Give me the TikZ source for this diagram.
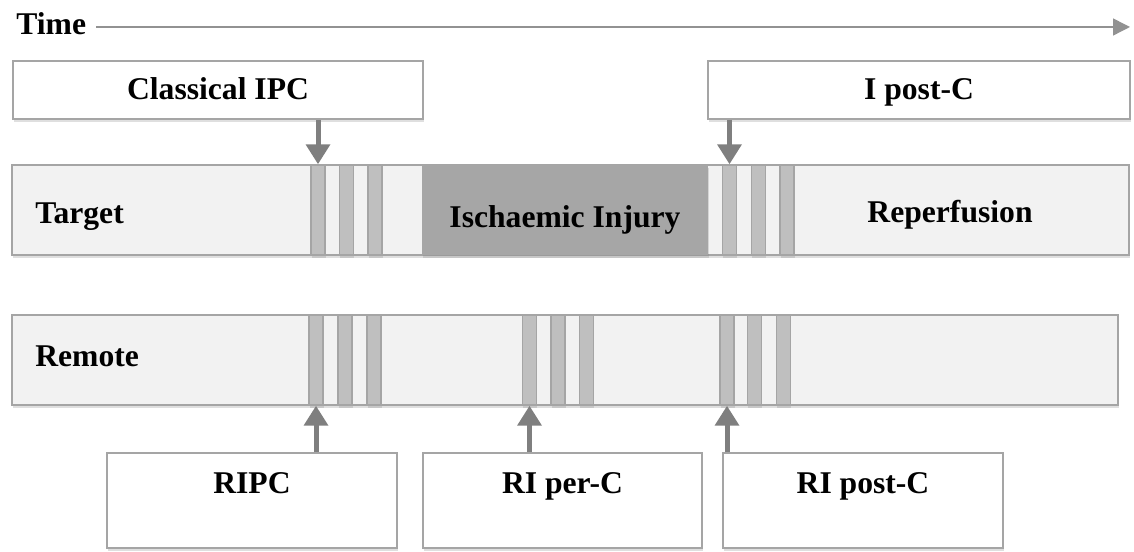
\documentclass[tikz,border=0pt]{standalone}
\usepackage{fontspec}
\setmainfont{Liberation Serif}
\usetikzlibrary{arrows.meta}
\usetikzlibrary{shadows}
\definecolor{barfill}{HTML}{F2F2F2}
\definecolor{barline}{HTML}{A5A5A5}
\definecolor{stripefill}{HTML}{BFBFBF}
\definecolor{injfill}{HTML}{A6A6A6}
\definecolor{arrowgray}{HTML}{7F7F7F}
\tikzset{   bar/.style = {rectangle, draw = barline, thick, fill = barfill, minimum height = 1.8cm, inner sep = 0pt,
                          drop shadow = {shadow xshift = 0.4pt, shadow yshift = -1.6pt, opacity = 0.25}},
            stripe/.style = {rectangle, draw = barline, thick, fill = stripefill, minimum width = 0.28cm, minimum height = 1.8cm, inner sep = 0pt,
                          drop shadow = {shadow xshift = 0.4pt, shadow yshift = -1.6pt, opacity = 0.25}},
            tag/.style = {rectangle, draw = barline, thick, fill = white, inner sep = 0pt,
                          font = \fontsize{18}{22}\selectfont\bfseries, text height = 1.15em, text depth = 0.1em,
                          drop shadow = {shadow xshift = 0.4pt, shadow yshift = -1.6pt, opacity = 0.25}},
            lbl/.style = {inner sep = 0pt, font = \fontsize{18}{22}\selectfont\bfseries},
            push/.style = {draw = arrowgray, line width = 0.1cm, -{Triangle[width = 0.47cm, length = 0.4cm]}}}

\begin{document}
\begin{tikzpicture}
\useasboundingbox (0,0) rectangle (22.68,-11.04);
% time axis
\node[lbl, anchor = base west] (time) at (0.32,-0.7) {Time};
\coordinate (tend) at (22.6,-0.54);
\draw[arrowgray!85, line width = 0.8pt, -{Triangle[width = 0.34cm, length = 0.34cm]}] ([xshift = 0.2cm]time.east |- tend) -- (tend);

% upper boxes
\node[tag, minimum width = 8.2cm, minimum height = 1.16cm] (ipc) at (4.36,-1.8) {Classical IPC};
\node[tag, minimum width = 8.44cm, minimum height = 1.16cm] (ipost) at (18.38,-1.8) {I post-C};

% target row
\node[bar, minimum width = 22.34cm] (target) at (11.41,-4.2) {};
\node[rectangle, fill = injfill, minimum width = 5.72cm, minimum height = 1.8cm, inner sep = 0pt,
      drop shadow = {shadow xshift = 0.4pt, shadow yshift = -1.6pt, opacity = 0.25}] (injury) at (11.3,-4.2) {};
\foreach \x [count = \i] in {6.36, 6.93, 7.50, 14.59, 15.17, 15.74}
    \node[stripe] (t\i) at (\x,-4.2) {};
\node[lbl, anchor = base west] (tlabel) at (0.7,-4.48) {Target};
\node[lbl, anchor = base] (ilabel) at (11.3,-4.56) {Ischaemic Injury};
\node[lbl, anchor = base] (rlabel) at (19.0,-4.46) {Reperfusion};

% remote row
\node[bar, minimum width = 22.12cm] (remote) at (11.3,-7.2) {};
\foreach \x [count = \i] in {6.32, 6.90, 7.48, 10.59, 11.16, 11.73, 14.54, 15.09, 15.67}
    \node[stripe] (r\i) at (\x,-7.2) {};
\node[lbl, anchor = base west] (mlabel) at (0.7,-7.34) {Remote};

% lower boxes
\node[tag, minimum width = 5.8cm, minimum height = 1.9cm] (ripc) at (5.04,-10.01) {};
\node[tag, minimum width = 5.58cm, minimum height = 1.9cm] (riper) at (11.25,-10.01) {};
\node[tag, minimum width = 5.6cm, minimum height = 1.9cm] (ripost) at (17.26,-10.01) {};
\node[lbl, anchor = base] (ripctext) at (ripc.center |- 0,-9.88) {RIPC};
\node[lbl, anchor = base] (ripertext) at (riper.center |- 0,-9.88) {RI per-C};
\node[lbl, anchor = base] (riposttext) at (ripost.center |- 0,-9.88) {RI post-C};

% arrows
\draw[push] (ipc.south -| t1) -- (t1.north);
\draw[push] (ipost.south -| t4) -- (t4.north);
\draw[push] (ripc.north -| r1) -- (r1.south);
\draw[push] (riper.north -| r4) -- (r4.south);
\draw[push] (ripost.north -| r7) -- (r7.south);
\end{tikzpicture}
\end{document}
